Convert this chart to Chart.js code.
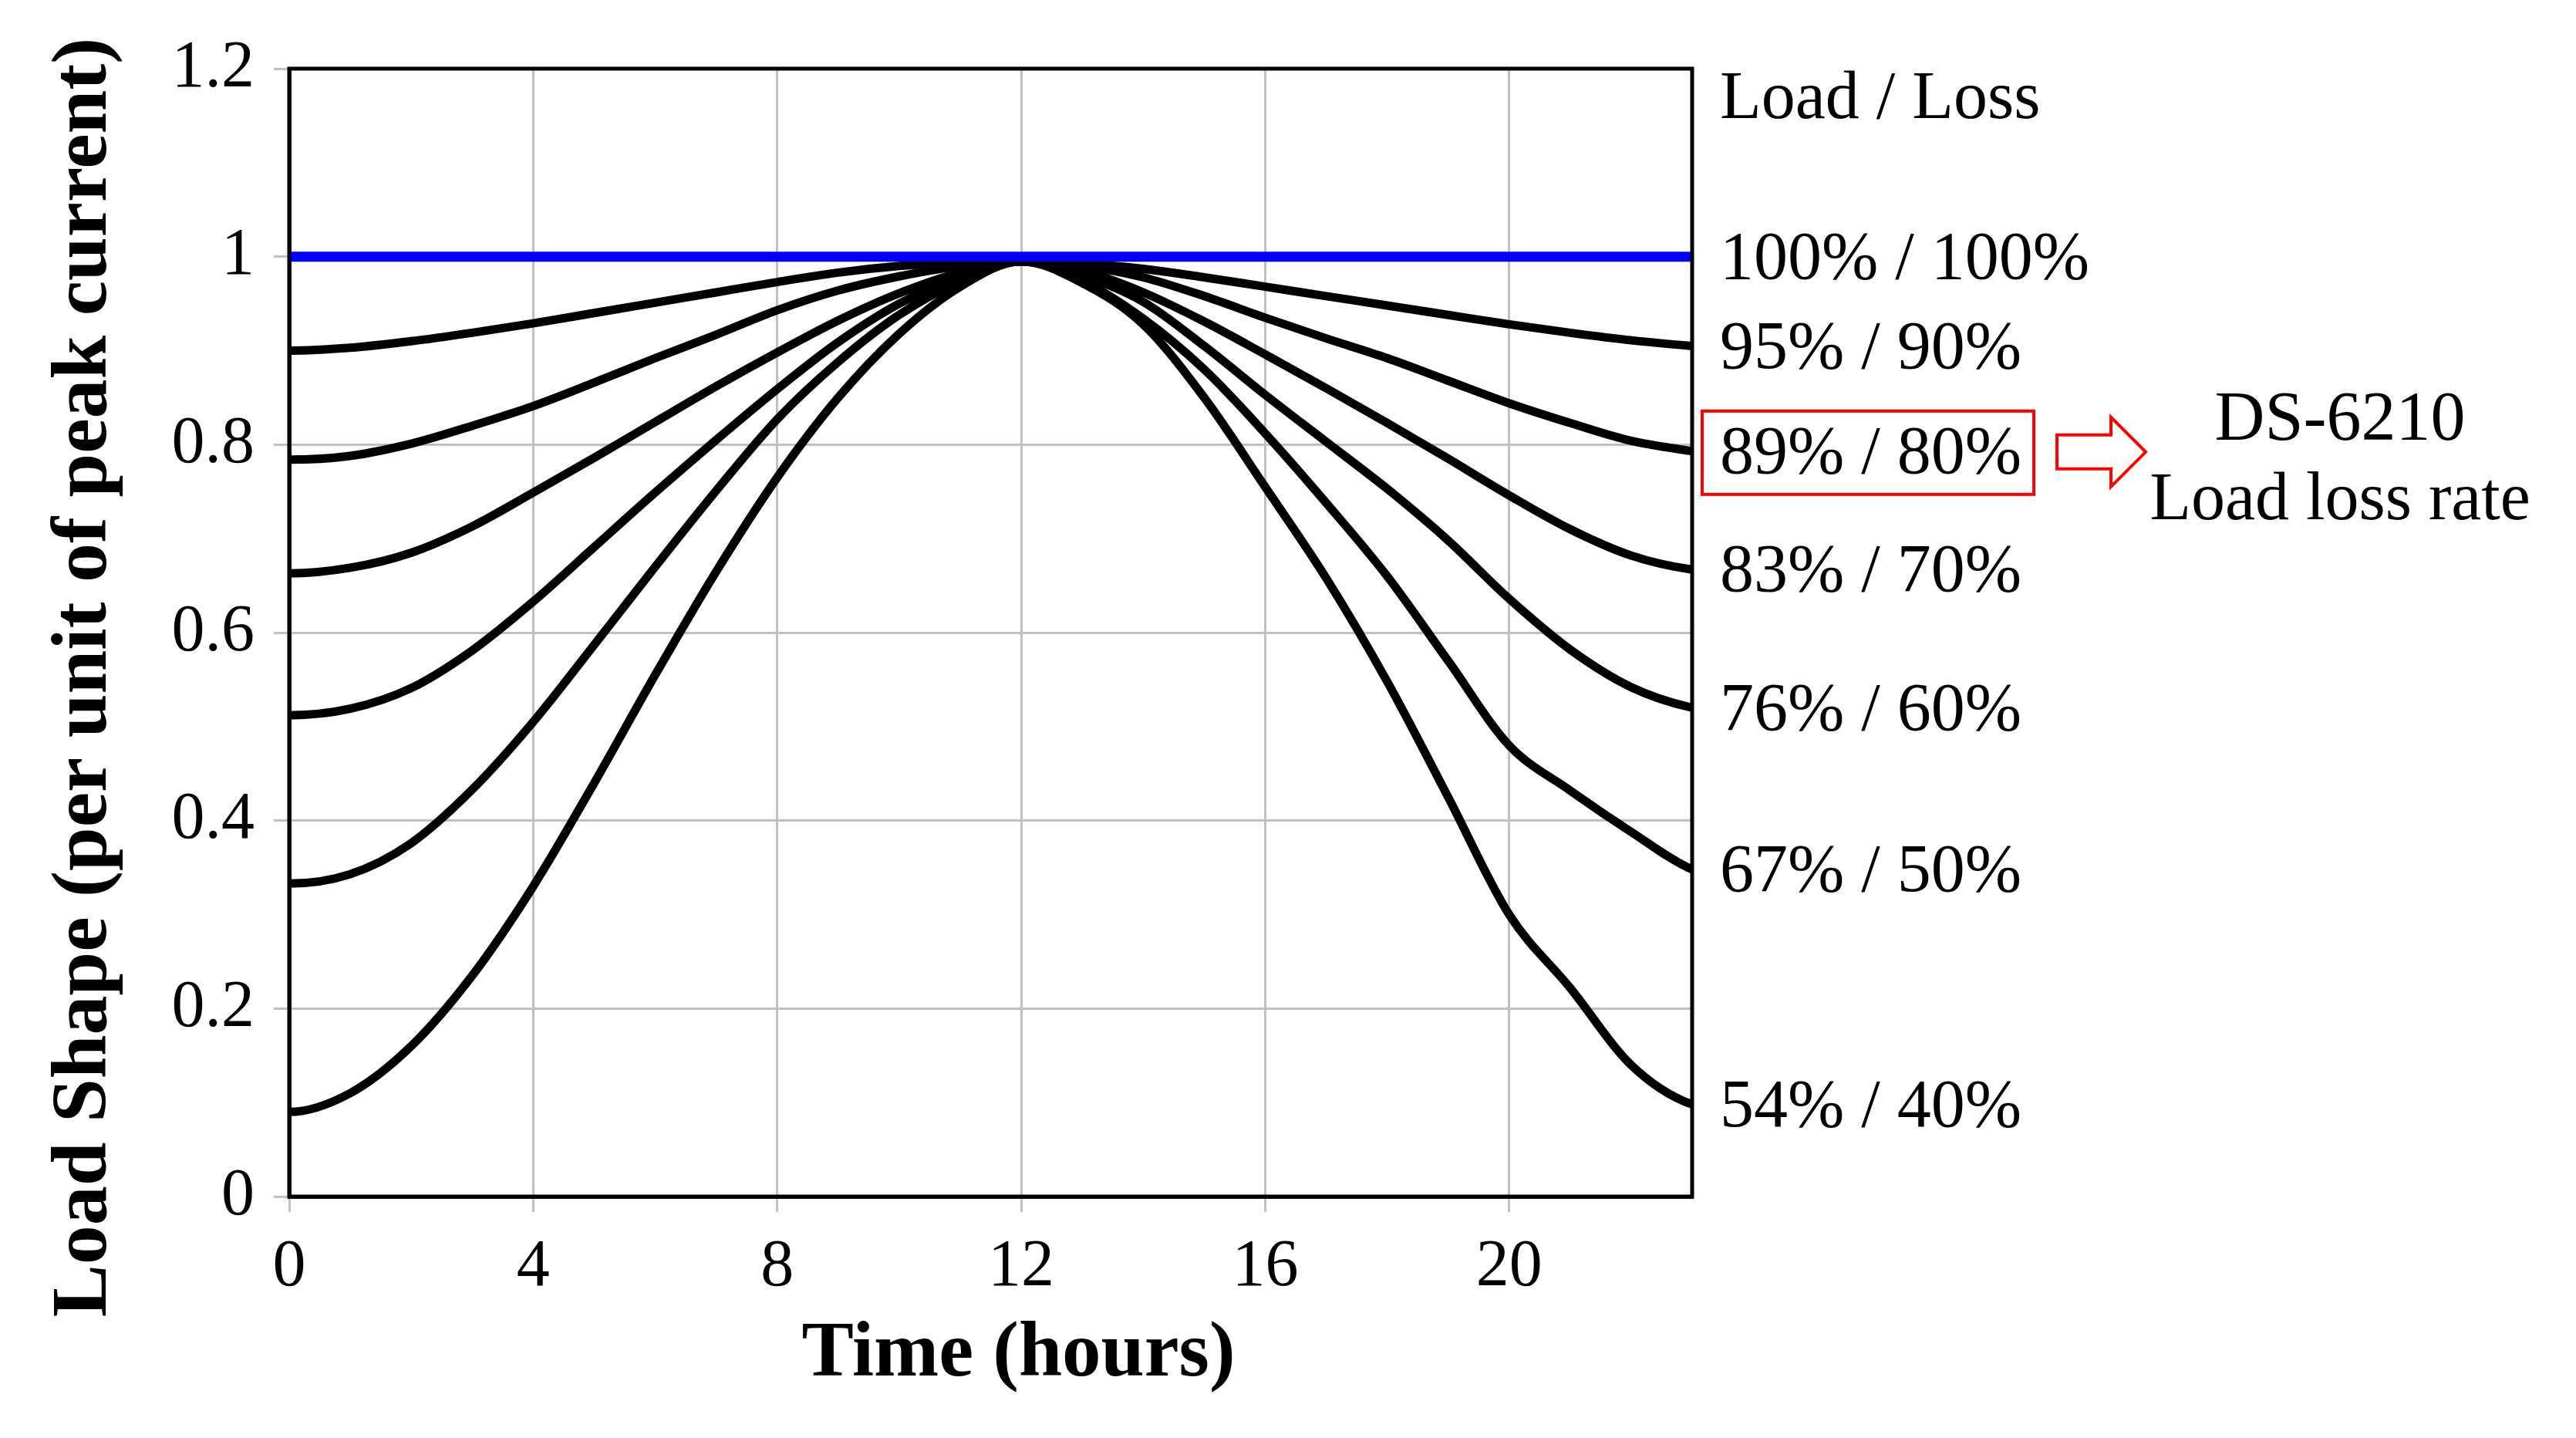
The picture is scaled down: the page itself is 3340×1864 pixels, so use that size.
<!DOCTYPE html>
<html>
<head>
<meta charset="utf-8">
<script src="https://cdn.jsdelivr.net/npm/chart.js@4.4.0/dist/chart.umd.min.js"></script>
<style>
html,body{margin:0;padding:0;background:#fff;}
#wrap{width:3340px;height:1864px;position:relative;}
</style>
</head>
<body>
<div id="wrap"><canvas id="c"></canvas></div>
<script>
// ---- data (hourly, 0..23) ----
const hours = [0,1,2,3,4,5,6,7,8,9,10,11,12,13,14,15,16,17,18,19,20,21,22,23];
const load100 = [1,1,1,1,1,1,1,1,1,1,1,1,1,1,1,1,1,1,1,1,1,1,1,1];
const load95 = [0.900,0.903,0.910,0.919,0.929,0.940,0.951,0.962,0.973,0.983,0.990,0.994,0.995,0.993,0.987,0.978,0.968,0.958,0.948,0.938,0.928,0.919,0.911,0.905];
const load89 = [0.784,0.788,0.801,0.820,0.841,0.866,0.892,0.917,0.943,0.964,0.979,0.990,0.995,0.990,0.978,0.958,0.935,0.913,0.892,0.868,0.844,0.823,0.804,0.793];
const load83 = [0.663,0.669,0.685,0.713,0.749,0.786,0.824,0.862,0.898,0.932,0.961,0.983,0.995,0.985,0.962,0.931,0.896,0.860,0.823,0.785,0.746,0.710,0.682,0.667];
const load76 = [0.512,0.519,0.541,0.581,0.633,0.691,0.749,0.805,0.859,0.909,0.950,0.978,0.995,0.980,0.952,0.905,0.853,0.803,0.753,0.698,0.636,0.582,0.542,0.520];
const load67 = [0.333,0.343,0.376,0.433,0.505,0.587,0.670,0.751,0.827,0.888,0.938,0.974,0.995,0.974,0.934,0.880,0.812,0.738,0.660,0.570,0.480,0.432,0.388,0.348];
const load54 = [0.090,0.110,0.160,0.235,0.330,0.440,0.555,0.665,0.765,0.850,0.918,0.968,0.995,0.972,0.928,0.850,0.755,0.658,0.548,0.425,0.300,0.222,0.140,0.098];

const seriesLabels = ['100% / 100%','95% / 90%','89% / 80%','83% / 70%','76% / 60%','67% / 50%','54% / 40%'];
const headerLabel = 'Load / Loss';
const highlightIndex = 2;
const noteLines = ['DS-6210','Load loss rate'];
const xTitle = 'Time (hours)';
const yTitle = 'Load Shape (per unit of peak current)';

const seriesValues = [load100, load95, load89, load83, load76, load67, load54];
const seriesColors = ['#0000ff','#000000','#000000','#000000','#000000','#000000','#000000'];

// daily load cycle: the hour before 0 is hour 23 and the hour after 23 is hour 0
// (these wrap-around neighbours lie outside the plotted range and only shape the curve ends)
const datasets = seriesValues.map((vals, i) => {
  const pts = hours.map((h, k) => ({x: h, y: vals[k]}));
  pts.unshift({x: hours[0] - 1, y: vals[vals.length - 1]});
  pts.push({x: hours[hours.length - 1] + 1, y: vals[0]});
  return {
    label: seriesLabels[i],
    data: pts,
    borderColor: seriesColors[i],
    borderWidth: i === 0 ? 13 : 11,
    pointRadius: 0,
    cubicInterpolationMode: 'monotone',
    clip: 0,
    fill: false
  };
});

const SERIF = '"Liberation Serif","Times New Roman",serif';

const decor = {
  id: 'decor',
  afterDraw(chart) {
    const {ctx, chartArea: a, scales: {y}} = chart;
    ctx.save();
    // frame
    ctx.strokeStyle = '#000';
    ctx.lineWidth = 5;
    ctx.strokeRect(a.left, a.top, a.right - a.left, a.bottom - a.top);

    // axis titles
    ctx.fillStyle = '#000';
    ctx.font = 'bold 101px ' + SERIF;
    ctx.textAlign = 'center';
    ctx.textBaseline = 'middle';
    ctx.fillText(xTitle, (a.left + a.right) / 2 + 36, a.bottom + 206);
    ctx.save();
    ctx.translate(111, (a.top + a.bottom) / 2 + 58);
    ctx.rotate(-Math.PI / 2);
    ctx.font = 'bold 102px ' + SERIF;
    ctx.fillText(yTitle, 0, 0);
    ctx.restore();

    // right-side labels
    ctx.font = '88px ' + SERIF;
    ctx.textAlign = 'left';
    ctx.textBaseline = 'middle';
    const tx = a.right + 36;
    const dy = 5;
    ctx.fillText(headerLabel, tx, y.getPixelForValue(y.max) + 41);
    let hl = null;
    seriesValues.forEach((vals, i) => {
      const py = y.getPixelForValue(vals[vals.length - 1]) + dy;
      ctx.fillText(seriesLabels[i], tx, py);
      if (i === highlightIndex) hl = {py, w: ctx.measureText(seriesLabels[i]).width};
    });

    if (hl) {
      // red box
      const bx0 = tx - 23, bx1 = tx + hl.w + 16;
      const by0 = hl.py - 57, by1 = hl.py + 51;
      ctx.strokeStyle = '#ff0000';
      ctx.lineWidth = 4;
      ctx.strokeRect(bx0, by0, bx1 - bx0, by1 - by0);
      // hollow arrow
      const ax = bx1 + 30, cy = hl.py - 4;
      ctx.beginPath();
      ctx.moveTo(ax, cy - 22);
      ctx.lineTo(ax + 70, cy - 22);
      ctx.lineTo(ax + 70, cy - 45);
      ctx.lineTo(ax + 115, cy);
      ctx.lineTo(ax + 70, cy + 45);
      ctx.lineTo(ax + 70, cy + 22);
      ctx.lineTo(ax, cy + 22);
      ctx.closePath();
      ctx.lineWidth = 4;
      ctx.stroke();
      // note text
      ctx.fillStyle = '#000';
      ctx.textAlign = 'center';
      ctx.font = '90px ' + SERIF;
      const nx = ax + 367;
      ctx.fillText(noteLines[0], nx, hl.py - 44);
      ctx.font = '88px ' + SERIF;
      ctx.fillText(noteLines[1], nx, hl.py + 60);
    }
    ctx.restore();
  }
};

new Chart(document.getElementById('c'), {
  type: 'line',
  data: {datasets},
  options: {
    responsive: true,
    maintainAspectRatio: false,
    devicePixelRatio: 1,
    animation: false,
    layout: {padding: {top: 89, right: 1146, left: 0, bottom: 0}},
    plugins: {legend: {display: false}, tooltip: {enabled: false}},
    scales: {
      x: {
        type: 'linear',
        min: 0,
        max: 23,
        afterFit(s) { s.height = 313; },
        ticks: {stepSize: 4, includeBounds: false, color: '#000', padding: 21, maxRotation: 0,
                font: {family: SERIF, size: 86}},
        grid: {color: '#c0c0c0', lineWidth: 3, tickLength: 20, tickColor: '#c0c0c0'},
        border: {color: '#000', width: 5}
      },
      y: {
        type: 'linear',
        min: 0,
        max: 1.2,
        afterFit(s) { s.width = 375; },
        ticks: {stepSize: 0.2, color: '#000', padding: 25, font: {family: SERIF, size: 86},
                callback: v => String(Math.round(v * 10) / 10)},
        grid: {color: '#c0c0c0', lineWidth: 3, tickLength: 20, tickColor: '#c0c0c0'},
        border: {color: '#000', width: 5}
      }
    }
  },
  plugins: [decor]
});
</script>
</body>
</html>
